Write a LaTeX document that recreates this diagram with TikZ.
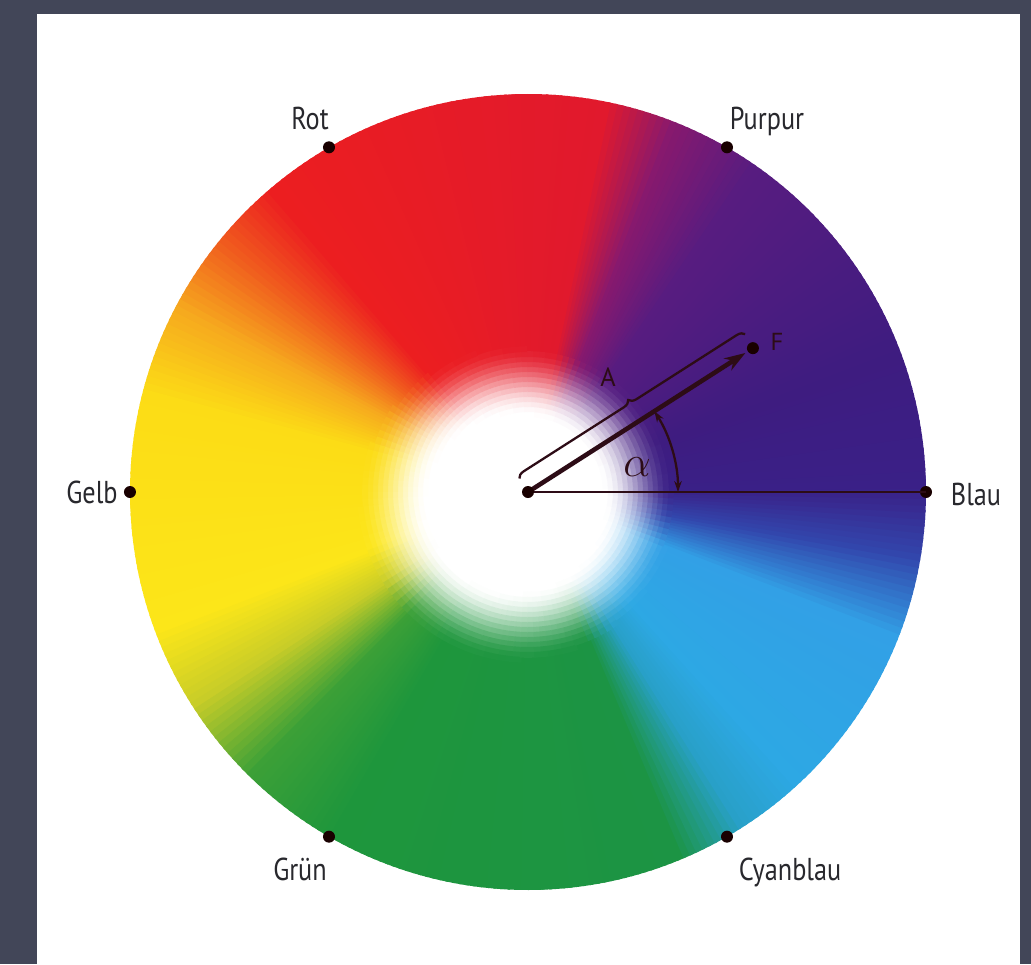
\documentclass[tikz,border=0pt]{standalone}
\usepackage{fontspec}
\newfontfamily\labelfont{PT Sans}
\usetikzlibrary{arrows.meta,decorations.pathreplacing,calc}
\definecolor{bgdark}{RGB}{66,70,88}
\definecolor{txt}{RGB}{40,40,45}
\definecolor{ink}{RGB}{45,12,22}
\definecolor{s0}{RGB}{58,32,135}
\definecolor{s1}{RGB}{62,28,128}
\definecolor{s2}{RGB}{88,28,128}
\definecolor{s3}{RGB}{135,25,110}
\definecolor{s4}{RGB}{225,25,45}
\definecolor{s5}{RGB}{236,30,32}
\definecolor{s6}{RGB}{240,90,30}
\definecolor{s7}{RGB}{246,170,30}
\definecolor{s8}{RGB}{252,220,22}
\definecolor{s9}{RGB}{252,230,25}
\definecolor{s10}{RGB}{200,205,40}
\definecolor{s11}{RGB}{60,160,55}
\definecolor{s12}{RGB}{30,150,60}
\definecolor{s13}{RGB}{28,148,68}
\definecolor{s14}{RGB}{40,160,200}
\definecolor{s15}{RGB}{45,168,228}
\definecolor{s16}{RGB}{50,160,230}
\definecolor{s17}{RGB}{50,70,172}
\begin{document}
\begin{tikzpicture}[x=0.02cm,y=0.02cm,
  lbl/.style={font=\labelfont\fontsize{18}{18}\selectfont, text=txt, anchor=base, inner sep=0pt},
  dotnode/.style={circle, fill=black!90!red, minimum size=0.24cm, inner sep=0pt},
  thinline/.style={ink, line width=1.3pt},
  arctip/.tip={Stealth[length=0.22cm,width=0.15cm]}]
\useasboundingbox (-528,-472) rectangle (503,492);
\fill[bgdark] (-528,-472) rectangle (503,492);
\fill[white] (-491,-472) rectangle (492,478);
% colour wheel
\foreach \a/\b/\ca/\cb in {0/20/s0/s1, 20/55/s1/s2, 55/68/s2/s3, 68/78/s3/s4, 78/130/s4/s5, 130/140/s5/s6, 140/152/s6/s7, 152/165/s7/s8, 165/200/s8/s9, 200/212/s9/s10, 212/225/s10/s11, 225/240/s11/s12, 240/292/s12/s13, 292/302/s13/s14, 302/312/s14/s15, 312/338/s15/s16, 338/350/s16/s17, 350/360/s17/s0}{
  \pgfmathtruncatemacro\n{\b-\a-1}
  \foreach \i in {0,...,\n}{
    \pgfmathtruncatemacro\p{round(100*\i/(\b-\a))}
    \pgfmathsetmacro\anga{\a+\i}
    \pgfmathsetmacro\angb{\a+\i+1.4}
    \fill[\cb!\p!\ca] (0,0) -- (\anga:398) arc[start angle=\anga, end angle=\angb, radius=398] -- cycle;
  }
}
% white centre: colour pieces mixed with white by distance from (-12,-12)
\foreach \a/\b/\ca/\cb in {0/20/s0/s1, 20/55/s1/s2, 55/68/s2/s3, 68/78/s3/s4, 78/130/s4/s5, 130/140/s5/s6, 140/152/s6/s7, 152/165/s7/s8, 165/200/s8/s9, 200/212/s9/s10, 212/225/s10/s11, 225/240/s11/s12, 240/292/s12/s13, 292/302/s13/s14, 302/312/s14/s15, 312/338/s15/s16, 338/350/s16/s17, 350/360/s17/s0}{
  \pgfmathtruncatemacro\k{max(1,round((\b-\a)/2.5))}
  \pgfmathsetmacro\dth{(\b-\a)/\k}
  \pgfmathtruncatemacro\km{\k-1}
  \foreach \i in {0,...,\km}{
    \pgfmathtruncatemacro\p{round(100*(\i+0.5)/\k)}
    \pgfmathsetmacro\tha{\a+\i*\dth}
    \pgfmathsetmacro\thb{\tha+\dth+0.6}
    \pgfmathsetmacro\tmid{\tha+\dth/2}
    \foreach \j in {13,...,35}{
      \pgfmathsetmacro\ra{5*\j}
      \pgfmathsetmacro\rb{5*\j+5.8}
      \pgfmathsetmacro\rmid{5*\j+2.5}
      \pgfmathsetmacro\dd{veclen(\rmid*cos(\tmid)+12,\rmid*sin(\tmid)+12)}
      \pgfmathsetmacro\tv{min(1,max(0,(\dd-88)/70))}
      \pgfmathtruncatemacro\q{round(100*(3*\tv*\tv-2*\tv*\tv*\tv))}
      \ifnum\q<100 \ifdim\dd pt>82pt
        \fill[\cb!\p!\ca!\q!white] (\tha:\ra) arc[start angle=\tha, end angle=\thb, radius=\ra] -- (\thb:\rb) arc[start angle=\thb, end angle=\tha, radius=\rb] -- cycle;
      \fi\fi
    }
  }
}
\fill[white] (-12,-12) circle[radius=88];
% points
\coordinate (O) at (0,0);
\node[dotnode] (pBlau) at (0:398) {};
\node[dotnode] (pPurpur) at (60:398) {};
\node[dotnode] (pRot) at (120:398) {};
\node[dotnode] (pGelb) at (180:398) {};
\node[dotnode] (pGruen) at (240:398) {};
\node[dotnode] (pCyan) at (300:398) {};
\coordinate (Ftip) at (32.6:258);
\coordinate (B1) at ($(O)+(122.6:16)$);
\coordinate (B2) at ($(O)+(32.6:268)+(122.6:16)$);
% lines
\draw[thinline] (O) -- (pBlau.center);
\draw[ink, line width=2.6pt, -{Stealth[length=0.42cm,width=0.28cm]}] (O) -- (Ftip);
\node[dotnode] (F) at (32.6:267) {};
\node[dotnode] (Odot) at (O) {};
\draw[ink, line width=1.3pt, decorate, decoration={brace, amplitude=0.15cm}] (B1) -- (B2);
\draw[thinline, arctip-arctip] (32.6:150) arc[start angle=32.6, end angle=0, radius=150];
% labels
\node[text=ink, inner sep=0pt] (alpha) at (109,25) {\fontsize{30}{30}\selectfont$\alpha$};
\node[text=ink, inner sep=0pt, font=\labelfont\fontsize{15}{15}\selectfont] (Alab) at (80,115) {A};
\node[text=ink, inner sep=0pt, font=\labelfont\fontsize{14}{14}\selectfont] (Flab) at (249,150) {F};
\node[lbl] (tRot) at (-218,362) {\scalebox{0.83}[1]{Rot}};
\node[lbl] (tPurpur) at (239,362) {\scalebox{0.83}[1]{Purpur}};
\node[lbl] (tGelb) at (-436,-11) {\scalebox{0.83}[1]{Gelb}};
\node[lbl] (tBlau) at (448,-13) {\scalebox{0.83}[1]{Blau}};
\node[lbl] (tGruen) at (-228,-388) {\scalebox{0.83}[1]{Grün}};
\node[lbl] (tCyan) at (262,-388) {\scalebox{0.83}[1]{Cyanblau}};
\end{tikzpicture}
\end{document}
